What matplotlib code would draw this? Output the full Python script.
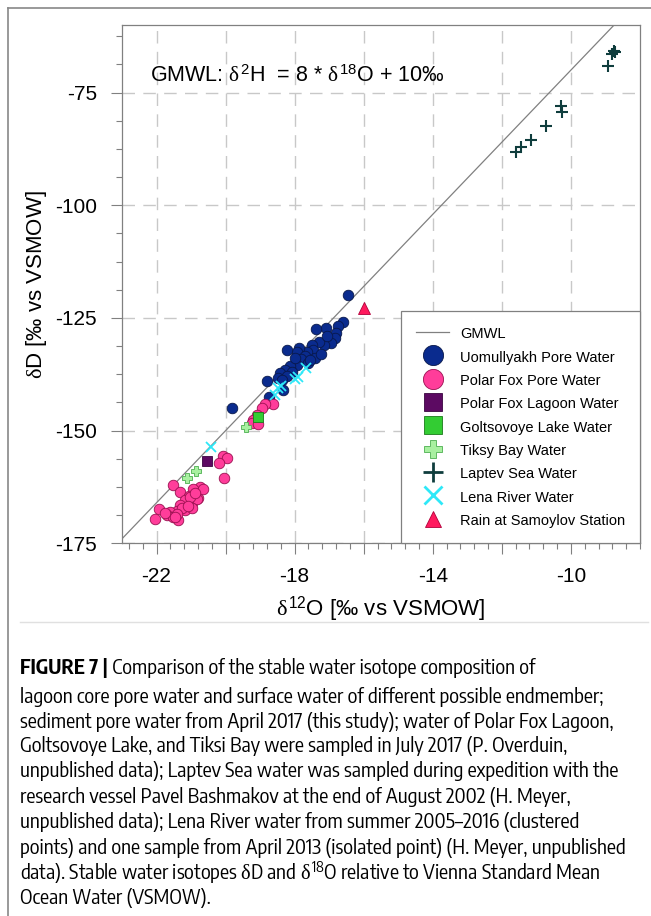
import numpy as np
import matplotlib
matplotlib.use("Agg")
import matplotlib.pyplot as plt
from matplotlib.lines import Line2D
from matplotlib.ticker import FixedLocator, MultipleLocator, FuncFormatter
from matplotlib import font_manager as fm

# --- data (d18O, dD) ---
uomul_x = [-16.47, -16.59, -16.74, -17.10, -17.39, -16.79, -16.84, -16.95, -17.14, -17.29,
           -17.49, -17.46, -17.65, -17.88, -17.94, -18.22, -17.41, -17.70, -17.82, -17.61,
           -17.94, -18.14, -18.28, -18.43, -18.09, -18.23, -18.47, -18.81, -18.38, -18.35,
           -18.75, -19.81, -17.05, -17.25, -18.00, -17.55]
uomul_y = [-119.9, -125.8, -126.7, -127.2, -127.5, -128.4, -129.5, -130.6, -131.0, -130.3,
           -131.1, -132.1, -132.5, -131.7, -132.5, -132.0, -133.8, -133.4, -134.1, -135.1,
           -135.5, -135.6, -136.6, -137.3, -136.9, -137.8, -138.4, -138.9, -138.8, -141.0,
           -142.6, -145.0, -129.0, -132.9, -133.9, -134.3]

pfox_x = [-18.62, -18.85, -18.94, -19.10, -19.20, -19.25, -19.05,
          -20.07, -19.97, -20.18, -20.04,
          -21.52, -21.33, -20.74, -20.94, -21.05, -20.79, -21.18, -20.98, -21.32, -21.18,
          -21.42, -21.61, -21.92, -21.71, -22.04, -21.37, -21.52, -20.65, -20.84, -21.27,
          -21.40, -21.76, -21.47, -20.98, -21.03, -21.10, -20.90]
pfox_y = [-144.2, -144.0, -145.0, -146.5, -147.6, -148.3, -148.5,
          -155.6, -156.1, -157.2, -160.6,
          -162.1, -163.7, -162.4, -162.9, -164.4, -165.0, -165.4, -166.1, -166.5, -167.6,
          -167.8, -168.0, -167.4, -168.7, -169.5, -169.9, -169.1, -163.0, -165.2, -167.2,
          -168.4, -168.3, -169.1, -167.2, -164.7, -166.8, -163.8]

lagoon_x = [-20.53]
lagoon_y = [-156.7]

golts_x = [-19.05]
golts_y = [-146.9]

tiksi_x = [-19.41, -20.86, -21.13]
tiksi_y = [-149.2, -159.0, -160.6]

laptev_x = [-8.75, -8.72, -8.80, -8.94, -10.28, -10.27, -10.73, -11.17, -11.45, -11.60]
laptev_y = [-65.7, -66.0, -66.5, -69.2, -78.0, -79.3, -82.5, -85.5, -87.0, -88.1]

lena_x = [-17.66, -17.90, -18.00, -18.40, -18.48, -18.57, -20.42]
lena_y = [-136.0, -138.0, -138.6, -140.0, -140.6, -142.1, -153.6]

rain_x = [-16.0]
rain_y = [-122.9]

gmwl_slope = 8
gmwl_icept = 10

labels = ['GMWL', 'Uomullyakh Pore Water', 'Polar Fox Pore Water', 'Polar Fox Lagoon Water',
          'Goltsovoye Lake Water', 'Tiksy Bay Water', 'Laptev Sea Water', 'Lena River Water',
          'Rain at Samoylov Station']

caption = [
    'Comparison of the stable water isotope composition of',
    'lagoon core pore water and surface water of different possible endmember;',
    'sediment pore water from April 2017 (this study); water of Polar Fox Lagoon,',
    'Goltsovoye Lake, and Tiksi Bay were sampled in July 2017 (P. Overduin,',
    'unpublished data); Laptev Sea water was sampled during expedition with the',
    'research vessel Pavel Bashmakov at the end of August 2002 (H. Meyer,',
    'unpublished data); Lena River water from summer 2005\u20132016 (clustered',
    'points) and one sample from April 2013 (isolated point) (H. Meyer, unpublished',
    r'data). Stable water isotopes $\delta$D and $\delta^{\mathregular{18}}$O relative to Vienna Standard Mean',
    'Ocean Water (VSMOW).',
]

plt.rcParams['font.family'] = ['Liberation Sans', 'DejaVu Sans']
plt.rcParams['axes.unicode_minus'] = False
plt.rcParams['mathtext.fontset'] = 'custom'
plt.rcParams['mathtext.rm'] = 'Liberation Sans'
plt.rcParams['mathtext.it'] = 'Liberation Serif'
plt.rcParams['mathtext.bf'] = 'Liberation Sans:bold'

# look for a condensed sans face for the caption
cap_font = dict(family='Liberation Sans')
narrow = [f for f in fm.fontManager.ttflist
          if ('Narrow' in f.name or 'Condensed' in f.name) and 'Sans' in f.name]
cond = [f for f in fm.fontManager.ttflist
        if str(f.stretch) in ('condensed', 'semi-condensed', '500', '400') and 'Sans' in f.name]
if narrow:
    cap_font = dict(family=sorted(narrow, key=lambda f: f.name)[0].name)
elif cond:
    cap_font = dict(family=cond[0].name, stretch=cond[0].stretch)

W, H = 651, 916
fig = plt.figure(figsize=(W / 100, H / 100), dpi=100)
ax = fig.add_axes([122 / W, 1 - 543.3 / H, 518 / W, 518.3 / H])

gray = '#808080'
ax.axline((0, gmwl_icept), slope=gmwl_slope, color=gray, lw=0.9, zorder=2)

ax.plot(uomul_x, uomul_y, 'o', ms=7.6, mfc='#0a2b8e', mec='#08184a', mew=0.6, zorder=3)
ax.plot(pfox_x, pfox_y, 'o', ms=7.6, mfc='#ff3d9a', mec='#9a1050', mew=0.6, zorder=3)
ax.plot(lagoon_x, lagoon_y, 's', ms=6.8, mfc='#5c0a62', mec='#3a0540', mew=0.6, zorder=4)
ax.plot(golts_x, golts_y, 's', ms=6.8, mfc='#33cc33', mec='#1a7a1a', mew=0.6, zorder=4)
ax.plot(tiksi_x, tiksi_y, 'P', ms=7, mfc='#a8f0a0', mec='#4caf50', mew=0.6, zorder=4)
ax.plot(laptev_x, laptev_y, '+', ms=9, color='#0f3d3d', mew=1.5, zorder=4)
ax.plot(lena_x, lena_y, 'x', ms=7.5, color='#2ee8f8', mew=1.3, zorder=4)
ax.plot(rain_x, rain_y, '^', ms=8, mfc='#ff1a5e', mec='#b0003a', mew=0.6, zorder=4)

ax.set_xlim(-23, -8)
ax.set_ylim(-175, -60)

ax.xaxis.set_major_locator(FixedLocator(np.arange(-22, -9, 2)))
ax.xaxis.set_major_formatter(FuncFormatter(lambda v, p: '%d' % v if int(round(v)) % 4 == 2 else ''))
ax.xaxis.set_minor_locator(MultipleLocator(0.4))
ax.yaxis.set_major_locator(FixedLocator([-175, -150, -125, -100, -75]))
ax.yaxis.set_minor_locator(MultipleLocator(6.25))

ax.tick_params(which='major', length=8, width=0.8, color=gray, labelsize=15)
ax.tick_params(which='minor', length=4, width=0.8, color=gray)
ax.tick_params(axis='x', which='major', pad=9)
ax.tick_params(axis='y', which='major', pad=10)
for s in ax.spines.values():
    s.set_color(gray)
    s.set_linewidth(0.9)

ax.grid(True, which='major', ls=(0, (9, 6)), color='#c8c8c8', lw=1, zorder=0)
ax.set_axisbelow(True)

ax.set_xlabel(r'$\delta^{\mathregular{12}}$O [‰ vs VSMOW]', fontsize=16, labelpad=6)
ax.set_ylabel(r'$\delta$D [‰ vs VSMOW]', fontsize=16, labelpad=4)

ax.text(0.054, 0.902, r'GMWL: $\delta^{\mathregular{2}}$H  = 8 * $\delta^{\mathregular{18}}$O + 10‰',
        transform=ax.transAxes, fontsize=15.5, va='center', ha='left')

handles = [
    Line2D([], [], color=gray, lw=0.9),
    Line2D([], [], ls='', marker='o', ms=14.5, mfc='#0a2b8e', mec='#08184a', mew=0.6),
    Line2D([], [], ls='', marker='o', ms=14.5, mfc='#ff3d9a', mec='#9a1050', mew=0.6),
    Line2D([], [], ls='', marker='s', ms=13.5, mfc='#5c0a62', mec='#3a0540', mew=0.6),
    Line2D([], [], ls='', marker='s', ms=13.5, mfc='#33cc33', mec='#1a7a1a', mew=0.6),
    Line2D([], [], ls='', marker='P', ms=13, mfc='#a8f0a0', mec='#4caf50', mew=0.6),
    Line2D([], [], ls='', marker='+', ms=15, color='#0f3d3d', mew=2),
    Line2D([], [], ls='', marker='x', ms=13, color='#2ee8f8', mew=2),
    Line2D([], [], ls='', marker='^', ms=12, mfc='#ff1a5e', mec='#b0003a', mew=0.6),
]
leg = ax.legend(handles, labels, loc='lower right', bbox_to_anchor=(1, 0), borderaxespad=0,
                fontsize=10.5, frameon=True, fancybox=False, framealpha=1,
                edgecolor=gray, handlelength=2.3, handletextpad=0.75,
                borderpad=1.0, labelspacing=0.445, handleheight=1.4)
leg.get_frame().set_linewidth(0.9)

# page frame and separator
fig.add_artist(Line2D([8 / W, 8 / W], [0, 1 - 8 / H], color='#888888', lw=1.2))
fig.add_artist(Line2D([8 / W, 1], [1 - 8 / H, 1 - 8 / H], color='#888888', lw=1.2))
fig.add_artist(Line2D([20 / W, 0.995], [1 - 622 / H, 1 - 622 / H], color='#e0e0e0', lw=1))

# caption: size chosen so the widest line spans the same width as in the reference
renderer = fig.canvas.get_renderer()
widths = []
for line in caption:
    probe = fig.text(0, 0, line, fontsize=14, **cap_font)
    widths.append(probe.get_window_extent(renderer).width)
    probe.remove()
cap_fs = 14 * 606 / max(widths)

cap_y = [668, 697, 722, 746, 771, 797, 822, 848, 873, 898]
t0 = fig.text(20 / W, 1 - cap_y[0] / H, 'FIGURE 7 |', fontsize=cap_fs, weight='bold',
              va='center', ha='left', **cap_font)
plt.annotate(' ' + caption[0], xy=(1, 0), xycoords=t0, va='bottom', ha='left',
             fontsize=cap_fs, annotation_clip=False, **cap_font)
for line, yy in zip(caption[1:], cap_y[1:]):
    fig.text(20 / W, 1 - yy / H, line, fontsize=cap_fs, va='center', ha='left', **cap_font)

fig.savefig('out.png', dpi=100)
